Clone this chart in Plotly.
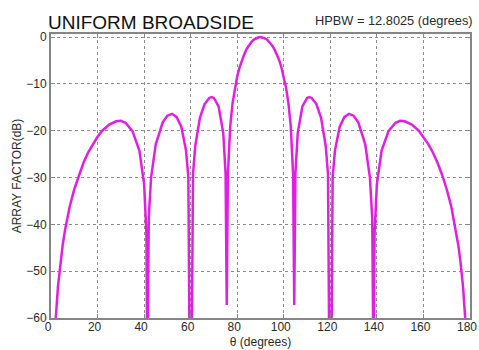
import plotly.graph_objects as go

theta_deg = [1, 2, 3, 4, 5, 6, 8, 10, 12, 14, 16, 18, 20, 22, 25, 28, 30, 32, 35, 38, 40, 41, 41.4, 42, 43,
             45, 48, 50, 52, 54, 56, 58, 59, 60, 61, 62, 64, 66, 68, 69, 70, 72, 74, 75, 75.5, 76, 77, 78,
             79, 80, 81, 82, 83, 84, 85, 86, 87, 88, 89, 90,
             91, 92, 93, 94, 95, 96, 97, 98, 99, 100, 101, 102, 103, 104, 104.5, 105, 106, 108, 110, 111,
             112, 114, 116, 118, 119, 120, 121, 122, 124, 126, 128, 130, 132, 135, 137, 138, 138.6, 139,
             140, 142, 145, 148, 150, 152, 155, 158, 160, 162, 164, 166, 168, 170, 172, 174, 175, 176,
             177, 178, 179]

af_db = [-72.4, -60.4, -53.3, -48.4, -44.5, -41.3, -36.3, -32.5, -29.4, -26.8, -24.6, -22.8, -21.3, -20.0,
         -18.7, -18.0, -17.9, -18.3, -20.1, -24.3, -31.4, -42.0, -74.2, -38.6, -30.0,
         -22.9, -18.2, -16.8, -16.4, -17.1, -19.2, -24.2, -29.8, -100, -29.3, -23.2, -17.2, -14.3, -13.0,
         -12.8, -13.0, -14.8, -20.5, -29.1, -57.2, -29.3, -19.0, -14.1,
         -10.9, -8.4, -6.5, -4.9, -3.7, -2.6, -1.8, -1.1, -0.6, -0.3, -0.1, 0.0,
         -0.1, -0.3, -0.6, -1.1, -1.8, -2.6, -3.7, -4.9, -6.5, -8.4, -10.9, -14.1, -19.0, -29.3, -57.2,
         -29.1, -20.5, -14.8, -13.0, -12.8,
         -13.0, -14.3, -17.2, -23.2, -29.3, -100, -29.8, -24.2, -19.2, -17.1, -16.4, -16.8, -18.2, -22.9,
         -30.0, -38.6, -74.2, -42.0,
         -31.4, -24.3, -20.1, -18.3, -17.9, -18.0, -18.7, -20.0, -21.3, -22.8, -24.6, -26.8, -29.4, -32.5,
         -36.3, -41.3, -44.5, -48.4,
         -53.3, -60.4, -72.4]

x_ticks = [0, 20, 40, 60, 80, 100, 120, 140, 160, 180]
y_ticks = [-60, -50, -40, -30, -20, -10, 0]

title_text = "UNIFORM BROADSIDE"
hpbw_text = "HPBW = 12.8025 (degrees)"
x_label = "θ (degrees)"
y_label = "ARRAY FACTOR(dB)"

FONT = "Liberation Sans, Arial, sans-serif"
TXT = "#2a2a2a"

fig = go.Figure()
fig.add_trace(go.Scatter(x=theta_deg, y=af_db, mode="lines",
                         line=dict(color="#E020E0", width=2.5), showlegend=False,
                         hoverinfo="skip"))

axis_common = dict(
    showline=True, linecolor="#858585", linewidth=2, mirror="allticks",
    ticks="inside", ticklen=4, tickcolor="#858585",
    showgrid=True, gridcolor="#8c8c8c", griddash="dot", gridwidth=1,
    zeroline=False, automargin=False, ticklabeloverflow="allow",
    tickfont=dict(family=FONT, size=12, color=TXT),
)

fig.update_xaxes(range=[0, 180], tickvals=x_ticks, **axis_common,
                 ticklabelshift=-3, ticklabelstandoff=-3,
                 title=dict(text=x_label, font=dict(family=FONT, size=12, color=TXT), standoff=4))
fig.update_yaxes(range=[-60, 0.65], tickvals=y_ticks, **axis_common,
                 title=dict(text=y_label, font=dict(family=FONT, size=12, color=TXT), standoff=2))

fig.update_layout(
    width=479, height=350,
    margin=dict(l=51, r=9, t=34, b=32),
    paper_bgcolor="white", plot_bgcolor="white",
    annotations=[
        dict(text=title_text, xref="paper", yref="paper", x=0.0, y=1.0, xanchor="left",
             yanchor="bottom", yshift=-1, xshift=-5, showarrow=False,
             font=dict(family=FONT, size=19, color="#111111")),
        dict(text=hpbw_text, xref="paper", yref="paper", x=1.0, y=1.0, xanchor="right",
             yanchor="bottom", yshift=4, xshift=5, showarrow=False,
             font=dict(family=FONT, size=12.8, color=TXT)),
    ],
)

# remove the browser's default 8px body margin so the figure fills the window exactly
fig.write_html("out.html",
               config={"displayModeBar": False, "staticPlot": True},
               post_script="document.body.style.margin='0';document.body.style.overflow='hidden';")
